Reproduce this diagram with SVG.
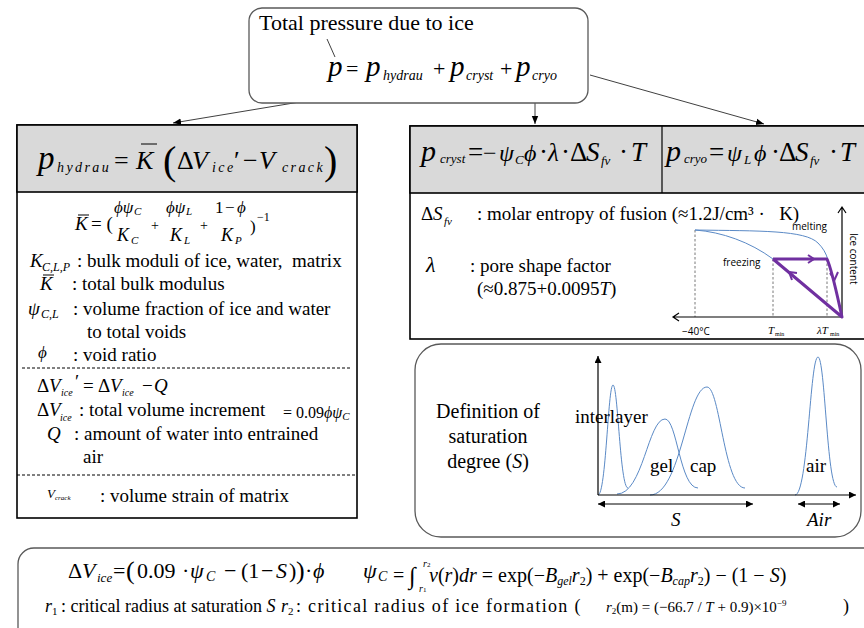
<svg xmlns="http://www.w3.org/2000/svg" width="864" height="628" viewBox="0 0 864 628">
<defs>
<style>
text{font-family:"Liberation Serif","Times New Roman",serif;fill:#000}
.it{font-style:italic}
.sans{font-family:"Open Sans","Liberation Sans",sans-serif}
.rbox{fill:#fff;stroke:#595959;stroke-width:1.3}
.box{fill:#fff;stroke:#000;stroke-width:1.6}
.hdr{fill:#d9d9d9;stroke:#000;stroke-width:1.6}
.conn{stroke:#404040;stroke-width:1;fill:none}
.dash{stroke:#000;stroke-width:1;stroke-dasharray:3 2}
.dash2{stroke:#555;stroke-width:0.8;stroke-dasharray:2.5 2}
.blue{stroke:#5b8ac6;stroke-width:1;fill:none}
.purple{stroke:#7030a0;stroke-width:3;fill:none;stroke-linejoin:round}
.pch{stroke:#7030a0;stroke-width:2;fill:none}
.ax{stroke:#000;stroke-width:1.2;fill:none}
.bar{stroke:#000;stroke-width:1}
</style>
<marker id="ah" viewBox="0 0 10 10" refX="10" refY="5" markerWidth="8" markerHeight="8" markerUnits="userSpaceOnUse" orient="auto">
<path d="M0,1 L10,5 L0,9 Z" fill="#000"/>
</marker>
<marker id="fa" viewBox="0 0 10 10" refX="10" refY="5" markerWidth="8" markerHeight="7" markerUnits="userSpaceOnUse" orient="auto-start-reverse">
<path d="M0,0 L10,5 L0,10 Z" fill="#000"/>
</marker>
</defs>

<!-- Connectors -->
<g id="connectors">
<line class="conn" x1="378" y1="89" x2="173" y2="123" marker-end="url(#ah)"/>
<line class="conn" x1="535" y1="96" x2="535" y2="124" marker-end="url(#ah)"/>
<line class="conn" x1="590" y1="75" x2="764" y2="124" marker-end="url(#ah)"/>
</g>

<!-- Top node -->
<g id="node-total">
<rect class="rbox" x="249" y="8" width="339" height="95" rx="13"/>
<text x="259" y="30" font-size="22">Total pressure due to ice</text>
<line x1="327" y1="39" x2="335" y2="57" stroke="#404040" stroke-width="1"/>
<text y="76" font-size="22"><tspan class="it" x="328" font-size="29">p</tspan><tspan x="346">=</tspan><tspan class="it" x="366" font-size="29">p</tspan><tspan class="it" x="383" dy="4" font-size="14">hydrau</tspan><tspan x="433" dy="-4">+</tspan><tspan class="it" x="450" font-size="29">p</tspan><tspan class="it" x="466" dy="4" font-size="14">cryst</tspan><tspan x="500" dy="-4">+</tspan><tspan class="it" x="516" font-size="29">p</tspan><tspan class="it" x="532" dy="4" font-size="14">cryo</tspan></text>
</g>

<!-- Left node: hydraulic pressure -->
<g id="node-hydrau">
<rect class="box" x="17" y="125" width="340" height="393"/>
<rect class="hdr" x="17" y="125" width="340" height="67"/>
<text y="169" font-size="26"><tspan class="it" x="38" font-size="33">p</tspan><tspan class="it" x="57" dy="3" font-size="14" letter-spacing="2.4">hydrau</tspan><tspan x="114" dy="-3">=</tspan><tspan class="it" x="136">K</tspan><tspan x="163" font-size="40" dy="5">(</tspan><tspan x="177" dy="-5">Δ</tspan><tspan class="it" x="192">V</tspan><tspan class="it" x="212" dy="3" font-size="14" letter-spacing="2.4">ice</tspan><tspan x="234" dy="-3">′</tspan><tspan x="243">−</tspan><tspan class="it" x="259">V</tspan><tspan class="it" x="282" dy="3" font-size="14" letter-spacing="2.4">crack</tspan><tspan x="324" font-size="40" dy="2">)</tspan></text>
<line class="bar" x1="141" y1="144" x2="157" y2="144" stroke-width="1.3"/>

<!-- K bar formula -->
<text y="230" font-size="19"><tspan class="it" x="75">K</tspan><tspan x="91">= (</tspan></text>
<line class="bar" x1="78" y1="215" x2="89" y2="215"/>
<text y="213" font-size="17"><tspan class="it" x="114">ϕψ</tspan><tspan class="it" x="134" dy="2" font-size="11">C</tspan></text>
<text y="241" font-size="18"><tspan class="it" x="117">K</tspan><tspan class="it" x="131" dy="3" font-size="11">C</tspan></text>
<text x="151" y="230" font-size="14">+</text>
<text y="213" font-size="17"><tspan class="it" x="166">ϕψ</tspan><tspan class="it" x="186" dy="2" font-size="11">L</tspan></text>
<text y="241" font-size="18"><tspan class="it" x="170">K</tspan><tspan class="it" x="184" dy="3" font-size="11">L</tspan></text>
<text x="200" y="230" font-size="14">+</text>
<text y="213" font-size="17"><tspan x="215">1</tspan><tspan x="225">−</tspan><tspan class="it" x="237">ϕ</tspan></text>
<text y="241" font-size="18"><tspan class="it" x="221">K</tspan><tspan class="it" x="235" dy="3" font-size="11">P</tspan></text>
<text y="232" font-size="17"><tspan x="250">)</tspan><tspan x="257" dy="-11" font-size="12">−1</tspan></text>

<text y="267" font-size="19" xml:space="preserve"><tspan class="it" x="30">K</tspan><tspan class="it" x="42" dy="4" font-size="12">C,L,P</tspan><tspan x="77" dy="-4">: bulk moduli of ice, water,  matrix</tspan></text>
<text y="290" font-size="19"><tspan class="it" x="40">K</tspan><tspan x="72">: total bulk modulus</tspan></text>
<line class="bar" x1="43" y1="275" x2="54" y2="275"/>
<text y="315" font-size="19"><tspan class="it" x="28">ψ</tspan><tspan class="it" x="41" dy="3" font-size="12">C,L</tspan><tspan x="73" dy="-3">: volume fraction of ice and water</tspan></text>
<text x="87" y="338" font-size="19">to total voids</text>
<text y="361" font-size="19"><tspan class="it" x="38" font-size="17" dy="-3">ϕ</tspan><tspan x="73" dy="3">: void ratio</tspan></text>
<line class="dash" x1="22" y1="368" x2="350" y2="368"/>

<text y="392" font-size="19"><tspan x="37">Δ</tspan><tspan class="it" x="49">V</tspan><tspan class="it" x="61" dy="4" font-size="10">ice</tspan><tspan x="75" dy="-8">′</tspan><tspan x="83" dy="4">=</tspan><tspan x="98">Δ</tspan><tspan class="it" x="110">V</tspan><tspan class="it" x="122" dy="4" font-size="10">ice</tspan><tspan x="142" dy="-4">−</tspan><tspan class="it" x="154">Q</tspan></text>
<text y="416" font-size="19"><tspan x="37">Δ</tspan><tspan class="it" x="49">V</tspan><tspan class="it" x="60" dy="5" font-size="10">ice</tspan><tspan x="79" dy="-5">: total volume increment</tspan></text>
<text y="418" font-size="16"><tspan x="283">= 0.09</tspan><tspan class="it">ϕψ</tspan><tspan class="it" dy="2" font-size="11">C</tspan></text>
<text y="440" font-size="19"><tspan class="it" x="47">Q</tspan><tspan x="74">: amount of water into entrained</tspan></text>
<text x="83" y="463" font-size="19">air</text>
<line class="dash" x1="17" y1="475" x2="357" y2="475"/>
<text y="498" font-size="13"><tspan class="it" x="47">V</tspan><tspan class="it" x="55" dy="2" font-size="7">crack</tspan></text>
<text x="100" y="502" font-size="19">: volume strain of matrix</text>
</g>

<!-- Right node: crystallization / cryo pressure -->
<g id="node-cryst">
<rect class="box" x="410" y="126" width="460" height="213"/>
<rect class="hdr" x="410" y="126" width="460" height="67"/>
<line x1="662" y1="126" x2="662" y2="193" stroke="#000" stroke-width="1.2"/>
<text y="161" font-size="27"><tspan class="it" x="421" font-size="30">p</tspan><tspan class="it" x="440" dy="2" font-size="13">cryst</tspan><tspan x="468" dy="-2">=</tspan><tspan x="483" font-size="24">−</tspan><tspan class="it" x="499" font-size="24">ψ</tspan><tspan class="it" x="515" dy="3" font-size="13">C</tspan><tspan class="it" x="524" dy="-3" font-size="24">ϕ</tspan><tspan x="539">·</tspan><tspan class="it" x="548" font-size="25">λ</tspan><tspan x="561">·</tspan><tspan x="570">Δ</tspan><tspan class="it" x="586">S</tspan><tspan class="it" x="601" dy="4" font-size="13">fv</tspan><tspan x="619" dy="-4">·</tspan><tspan class="it" x="631">T</tspan></text>
<text y="161" font-size="27"><tspan class="it" x="666" font-size="30">p</tspan><tspan class="it" x="684" dy="2" font-size="13">cryo</tspan><tspan x="709" dy="-2">=</tspan><tspan class="it" x="727" font-size="24">ψ</tspan><tspan class="it" x="744" dy="3" font-size="13">L</tspan><tspan class="it" x="754" dy="-3" font-size="24">ϕ</tspan><tspan x="771">·</tspan><tspan x="779">Δ</tspan><tspan class="it" x="795">S</tspan><tspan class="it" x="810" dy="4" font-size="13">fv</tspan><tspan x="829" dy="-4">·</tspan><tspan class="it" x="840">T</tspan></text>

<text y="220" font-size="19" xml:space="preserve"><tspan x="421">Δ</tspan><tspan class="it" x="433">S</tspan><tspan class="it" x="444" dy="5" font-size="11">fv</tspan><tspan x="477" dy="-5">: molar entropy of fusion (≈1.2J/cm³ ·   K)</tspan></text>
<text y="272" font-size="19"><tspan class="it" x="426" font-size="22">λ</tspan><tspan x="470">: pore shape factor</tspan></text>
<text y="295" font-size="19"><tspan x="477">(≈0.875+0.0095</tspan><tspan class="it">T</tspan><tspan>)</tspan></text>

<!-- ice content chart -->
<line class="dash2" x1="695" y1="230" x2="695" y2="317"/>
<line class="dash2" x1="773" y1="259" x2="773" y2="317"/>
<line class="dash2" x1="827" y1="259" x2="827" y2="317"/>
<path class="blue" d="M695,230 C760,231 805,230 818,243 C823,248 826,253 828,260"/>
<path class="blue" d="M695,230 C722,232 750,242 773,259"/>
<path class="ax" d="M842,317 L842,207 M838,213 L842,207 L846,213"/>
<path class="ax" d="M842,317 L673,317 M679,313 L673,317 L679,321"/>
<path class="purple" d="M773,259 L827,259 C832,270 836,290 842,317 L773,259"/>
<polyline class="pch" points="808,255 814,259 808,263"/>
<polyline class="pch" points="830,273 834.5,280 838,272"/>
<polyline class="pch" points="797,273 789,272 792,280"/>
<text class="sans" x="792" y="230" font-size="10">melting</text>
<text class="sans" x="723" y="266" font-size="10">freezing</text>
<text class="sans" font-size="10" transform="translate(850,233) rotate(90)">Ice content</text>
<text class="sans" x="682" y="335" font-size="10">−40°C</text>
<text y="334" font-size="11"><tspan class="it" x="768">T</tspan><tspan x="775" dy="2" font-size="6">min</tspan></text>
<text y="334" font-size="11"><tspan class="it" x="817">λT</tspan><tspan x="830" dy="2" font-size="6">min</tspan></text>
</g>

<!-- Saturation node -->
<g id="node-saturation">
<rect class="rbox" x="415" y="344" width="446" height="193" rx="26"/>
<text x="488" y="418" font-size="20" text-anchor="middle">Definition of</text>
<text x="488" y="443" font-size="20" text-anchor="middle">saturation</text>
<text x="488" y="468" font-size="20" text-anchor="middle">degree (<tspan class="it">S</tspan>)</text>
<path class="blue" d="M598,495 C606,495 608,385 613,385 C618,385 620,488 628,488"/>
<path class="blue" d="M617,494 C643,494 648,419 665,419 C677,419 680,488 698,488"/>
<path class="blue" d="M650,495 C681,495 687,387 707,387 C720,387 724,488 745,488"/>
<path class="blue" d="M795,495 C808,495 810,357 818,357 C825,357 827,487 837,487"/>
<line x1="598" y1="495" x2="598" y2="356" stroke="#000" stroke-width="1.2" marker-end="url(#fa)"/>
<line x1="598" y1="495" x2="856" y2="495" stroke="#000" stroke-width="1.2" marker-end="url(#fa)"/>
<line x1="598" y1="504" x2="753" y2="504" stroke="#000" stroke-width="1" marker-start="url(#fa)" marker-end="url(#fa)"/>
<line x1="798" y1="504" x2="840" y2="504" stroke="#000" stroke-width="1" marker-start="url(#fa)" marker-end="url(#fa)"/>
<text x="575" y="423" font-size="19">interlayer</text>
<text x="650" y="472" font-size="19">gel</text>
<text x="690" y="472" font-size="19">cap</text>
<text x="806" y="472" font-size="19">air</text>
<text class="it" x="671" y="526" font-size="19">S</text>
<text class="it" x="807" y="526" font-size="19">Air</text>
</g>

<!-- Bottom node -->
<g id="node-bottom">
<rect class="rbox" x="18" y="548" width="870" height="110" rx="16"/>
<text y="578" font-size="22"><tspan x="68">Δ</tspan><tspan class="it" x="82">V</tspan><tspan class="it" x="97" dy="4" font-size="13">ice</tspan><tspan x="113" dy="-4">=</tspan><tspan x="126" font-size="26" dy="1">(</tspan><tspan x="137" dy="-1">0.09</tspan><tspan x="182">·</tspan><tspan class="it" x="190">ψ</tspan><tspan class="it" x="206" dy="3" font-size="14">C</tspan><tspan x="224" dy="-3">−</tspan><tspan x="241">(1</tspan><tspan x="261">−</tspan><tspan class="it" x="276">S</tspan><tspan x="289">)</tspan><tspan x="296" font-size="26" dy="1">)</tspan><tspan x="305" dy="-1">·</tspan><tspan class="it" x="313">ϕ</tspan></text>
<text y="582" font-size="20"><tspan class="it" x="363" font-size="22" dy="-4">ψ</tspan><tspan class="it" x="378" font-size="14" dy="3">C</tspan><tspan x="393" dy="1">=</tspan><tspan x="409" font-size="24" dy="2">∫</tspan><tspan class="it" x="419" font-size="10" dy="8">r</tspan><tspan font-size="7">1</tspan><tspan class="it" x="423" font-size="10" dy="-25">r</tspan><tspan font-size="7">2</tspan><tspan class="it" x="429" dy="15">v</tspan><tspan>(</tspan><tspan class="it">r</tspan><tspan>)</tspan><tspan class="it">dr</tspan><tspan> = exp(−</tspan><tspan class="it">B</tspan><tspan class="it" font-size="12" dy="3">gel</tspan><tspan class="it" dy="-3">r</tspan><tspan font-size="12" dy="3">2</tspan><tspan dy="-3">) + exp(−</tspan><tspan class="it">B</tspan><tspan class="it" font-size="12" dy="3">cap</tspan><tspan class="it" dy="-3">r</tspan><tspan font-size="12" dy="3">2</tspan><tspan dy="-3">) − (1 − </tspan><tspan class="it">S</tspan><tspan>)</tspan></text>
<text y="612" font-size="18"><tspan class="it" x="45">r</tspan><tspan x="52" font-size="11" dy="3">1</tspan><tspan x="61" dy="-3">: critical radius at saturation </tspan><tspan class="it">S</tspan></text>
<text y="612" font-size="18"><tspan class="it" x="281">r</tspan><tspan x="288" font-size="11" dy="3">2</tspan><tspan x="296" dy="-3" letter-spacing="1.3">: critical radius of ice formation (</tspan></text>
<text y="612" font-size="15"><tspan class="it" x="606">r</tspan><tspan font-size="9" dy="2">2</tspan><tspan dy="-2">(m) = (−66.7 / </tspan><tspan class="it">T</tspan><tspan> + 0.9)×10</tspan><tspan font-size="9" dy="-6">−9</tspan></text>
<text x="843" y="612" font-size="18">)</text>
</g>
</svg>
